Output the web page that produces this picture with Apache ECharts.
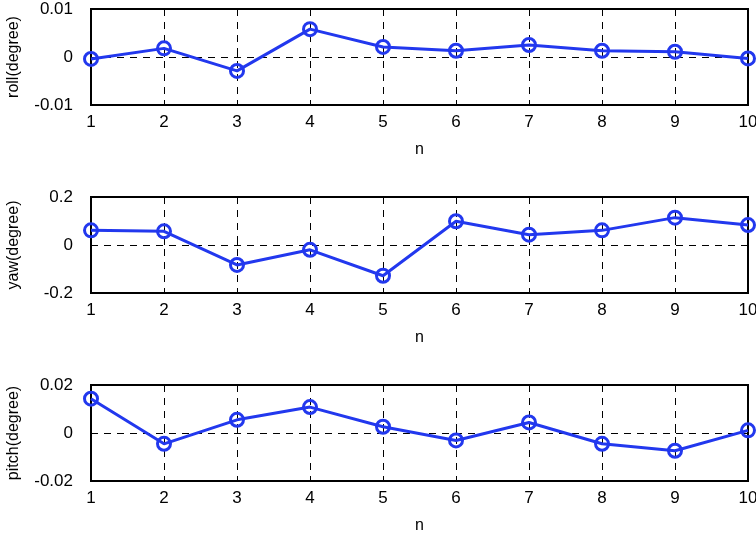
<!DOCTYPE html>
<html><head><meta charset="utf-8">
<script src="https://cdn.jsdelivr.net/npm/echarts@6/dist/echarts.min.js"></script>
<style>html,body{margin:0;padding:0;background:#fff}#c{width:756px;height:534px}</style>
</head><body><div id="c"></div>
<script>
const n = [1,2,3,4,5,6,7,8,9,10];
const roll = [-0.0004,0.0018,-0.0029,0.0058,0.0021,0.0013,0.0025,0.0013,0.0011,-0.0003];
const yaw = [0.061,0.057,-0.083,-0.020,-0.128,0.099,0.043,0.061,0.114,0.083];
const pitch = [0.0143,-0.0045,0.0055,0.0108,0.0026,-0.0031,0.0044,-0.0045,-0.0074,0.0011];
const names = ['roll(degree)','yaw(degree)','pitch(degree)'];
const ranges = [[-0.01,0.01,0.01],[-0.2,0.2,0.2],[-0.02,0.02,0.02]];
const yTickLabels = [['-0.01','0','0.01'],['-0.2','0','0.2'],['-0.02','0','0.02']];
const series = [roll,yaw,pitch];
const tops = [9,197,385];
const font = 'Liberation Sans';
const chart = echarts.init(document.getElementById('c'));
const grids=[],xAxes=[],yAxes=[],ser=[];
for(let i=0;i<3;i++){
  grids.push({left:91,right:8,top:tops[i],height:96,show:true,borderColor:'#000',borderWidth:2,backgroundColor:'transparent',containLabel:false,outerBoundsMode:'none'});
  xAxes.push({type:'value',gridIndex:i,min:1,max:10,interval:1,name:'n',nameLocation:'middle',nameGap:37,
    nameTextStyle:{fontFamily:font,fontSize:16,color:'#000'},
    axisLine:{show:false},axisTick:{show:true,inside:true,length:5,lineStyle:{color:'#000'}},
    axisLabel:{fontFamily:font,fontSize:17,color:'#000',margin:9},
    splitLine:{show:true,lineStyle:{color:'#000',type:[7,6],width:1}}});
  const labs=yTickLabels[i];
  yAxes.push({type:'value',gridIndex:i,min:ranges[i][0],max:ranges[i][1],interval:ranges[i][2],
    name:names[i],nameLocation:'middle',nameGap:69,nameRotate:90,
    nameTextStyle:{fontFamily:font,fontSize:16,color:'#000'},
    axisLine:{show:false},axisTick:{show:true,inside:true,length:5,lineStyle:{color:'#000'}},
    axisLabel:{fontFamily:font,fontSize:17,color:'#000',margin:18,formatter:(v)=>{const k=Math.round((v-ranges[i][0])/ranges[i][2]);return labs[k];}},
    splitLine:{show:true,lineStyle:{color:'#000',type:[7,6],width:1}}});
  ser.push({type:'line',xAxisIndex:i,yAxisIndex:i,data:n.map((x,j)=>[x,series[i][j]]),
    symbol:'circle',symbolSize:13,showAllSymbol:true,lineStyle:{color:'#2238ee',width:3},
    itemStyle:{color:'rgba(0,0,0,0)',borderColor:'#2238ee',borderWidth:3},animation:false});
}
chart.setOption({animation:false,grid:grids,xAxis:xAxes,yAxis:yAxes,series:ser});
</script></body></html>
